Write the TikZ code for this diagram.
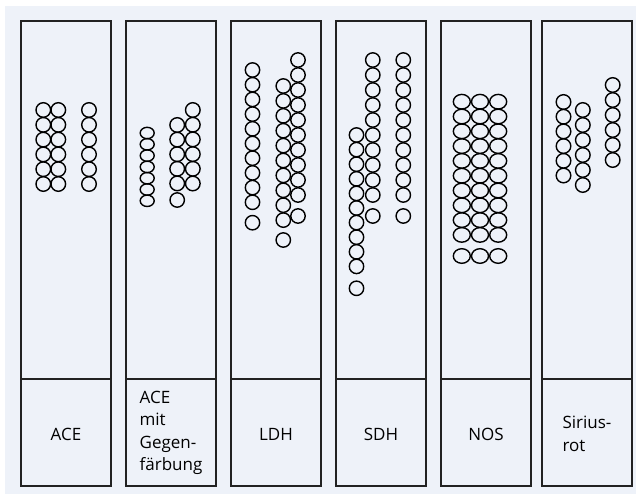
\documentclass[tikz,border=0pt]{standalone}
\usepackage{fontspec}
\setmainfont{Open Sans}
\definecolor{paper}{RGB}{238,242,249}
\definecolor{ink}{RGB}{34,34,34}
\tikzset{
  panel/.style={draw=ink, line width=1.5pt, fill=paper},
  cell/.style={draw=black, line width=1.4pt},
  lab/.style={align=left, font=\fontsize{17}{22.5}\selectfont, inner sep=0pt}
}
% a column of stacked cells: x, first y, count, pitch, x radius, y radius
\newcommand\cellcolumn[6]{%
  \foreach \k in {1,...,#3}{%
    \draw[cell] (#1,{#2+(\k-1)*#4}) ellipse [x radius=#5, y radius=#6];
  }%
}
% a single detached cell
\newcommand\onecell[2]{\draw[cell] (#1,#2) ellipse [x radius=7.2, y radius=7.2];}
\begin{document}
\begin{tikzpicture}[x=1pt, y=-1pt]
  \useasboundingbox (0,0) rectangle (636,494);
  \fill[paper] (5,6) rectangle (636,494);

  % panels: upper section and label section
  \foreach \name/\xl/\xr in {pA/21/111, pB/126/216, pC/231/321, pD/336/426, pE/441/531, pF/542/632}{
    \draw[panel] (\xl,21) rectangle (\xr,486);
    \draw[panel] (\xl,379) -- (\xr,379);
    \coordinate (\name) at ({(\xl+\xr)/2},433);
  }

  % labels
  \node[lab] (tA) at ([yshift=-1]pA) {ACE};
  \node[lab] (tB) at (pB) {ACE\\mit\\Gegen-\\färbung};
  \node[lab] (tC) at ([yshift=-1]pC) {LDH};
  \node[lab] (tD) at ([yshift=-1]pD) {SDH};
  \node[lab] (tE) at ([yshift=-1]pE) {NOS};
  \node[lab] (tF) at ([yshift=-1]pF) {Sirius-\\rot};

  % ACE
  \cellcolumn{43.3}{110}{6}{14.8}{7.3}{7.3}
  \cellcolumn{58.3}{110}{6}{14.8}{7.3}{7.3}
  \cellcolumn{89}{110}{6}{14.8}{7.3}{7.3}

  % ACE mit Gegenfärbung
  \cellcolumn{147.2}{133}{7}{11.3}{7}{5.7}
  \cellcolumn{177.2}{125}{5}{14.6}{7.3}{7.3}
  \onecell{177.2}{200}
  \cellcolumn{192.8}{110}{6}{14.7}{7.3}{7.3}

  % LDH
  \cellcolumn{252.5}{70}{10}{14.7}{7.2}{7.2}
  \onecell{252.5}{222.7}
  \cellcolumn{283.3}{86}{10}{14.9}{7.2}{7.2}
  \onecell{283.3}{240}
  \cellcolumn{298}{60}{10}{15}{7.2}{7.2}
  \onecell{298}{216}

  % SDH
  \cellcolumn{356.5}{135}{10}{14.6}{7.2}{7.2}
  \onecell{356.5}{288.3}
  \cellcolumn{372.8}{60}{10}{15}{7.2}{7.2}
  \onecell{372.8}{216}
  \cellcolumn{403.3}{60}{10}{15}{7.2}{7.2}
  \onecell{403.3}{216}

  % NOS
  \foreach \cx in {461.8, 480, 498.2}{
    \cellcolumn{\cx}{101.7}{10}{14.8}{8.5}{7.3}
    \draw[cell] (\cx,256) ellipse [x radius=8.5, y radius=7.3];
  }

  % Siriusrot
  \cellcolumn{563.5}{102}{6}{14.7}{7.3}{7.3}
  \cellcolumn{582.8}{110}{6}{15}{7.3}{7.3}
  \cellcolumn{612.7}{85}{6}{15}{7.3}{7.3}
\end{tikzpicture}
\end{document}
